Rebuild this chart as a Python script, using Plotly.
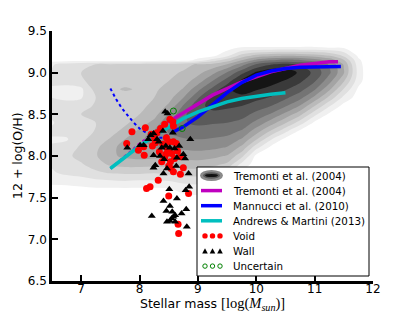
import numpy as np
import plotly.graph_objects as go

# ---------------- data ----------------
# SDSS density (contour levels 0..10) on a mass x metallicity grid
mass_bins = [6.5, 6.75, 7.0, 7.25, 7.5, 7.75, 8.0, 8.25, 8.5, 8.75, 9.0, 9.25,
             9.5, 9.75, 10.0, 10.25, 10.5, 10.75, 11.0, 11.25, 11.5, 11.75, 11.9]
oh_bins = [7.0, 7.1, 7.2, 7.3, 7.4, 7.5, 7.6, 7.7, 7.8, 7.9, 8.0, 8.1, 8.2, 8.3,
           8.4, 8.5, 8.6, 8.7, 8.8, 8.9, 9.0, 9.1, 9.15, 9.2, 9.3, 9.4]
# one list per mass bin, values for oh_bins from 7.0 up to 9.4
density_by_mass = [
    [0, 0, 0, 0, 0, 0, 0, 0.9, 1.4, 1.6, 1.8, 1.6, 1.4, 1.7, 1.4, 1.7, 1.8, 1.5, 1.3, 1.8, 1.6, 1.4, 0, 0, 0, 0],
    [0, 0, 0, 0, 0, 0, 0, 1.0, 1.7, 2.0, 2.3, 1.9, 1.4, 1.8, 2.0, 2.2, 1.9, 1.3, 1.2, 1.8, 2.1, 1.9, 0, 0, 0, 0],
    [0, 0, 0, 0, 0, 0, 0.2, 1.1, 1.9, 2.4, 2.8, 2.7, 2.3, 1.8, 2.1, 2.5, 2.2, 1.4, 1.3, 2.1, 2.5, 2.3, 0, 0, 0, 0],
    [0, 0, 0, 0, 0, 0, 0.3, 1.3, 2.3, 3.0, 3.4, 3.3, 2.9, 2.6, 2.5, 2.8, 2.6, 2.5, 2.9, 3.5, 2.9, 2.5, 0, 0, 0, 0],
    [0, 0, 0, 0, 0, 0, 0.3, 1.4, 2.6, 3.7, 4.3, 4.2, 3.6, 3.1, 2.8, 2.9, 2.7, 2.9, 3.3, 3.1, 2.8, 2.6, 0, 0, 0, 0],
    [0, 0, 0, 0, 0, 0, 0.3, 1.5, 2.7, 3.9, 4.7, 4.9, 4.5, 3.8, 3.3, 3.1, 3.0, 3.1, 3.6, 3.2, 2.9, 2.7, 0, 0, 0, 0],
    [0, 0, 0, 0, 0, 0, 0.3, 1.4, 2.7, 3.9, 4.9, 5.4, 5.3, 4.7, 4.0, 3.5, 3.3, 3.2, 3.4, 3.2, 3.0, 2.8, 0, 0, 0, 0],
    [0, 0, 0, 0, 0, 0, 0.3, 1.4, 2.6, 3.8, 4.8, 5.5, 5.9, 5.6, 4.8, 4.1, 3.7, 3.5, 3.4, 3.3, 3.1, 2.9, 0, 0, 0, 0],
    [0, 0, 0, 0, 0, 0, 0.4, 1.5, 2.8, 3.9, 4.8, 5.6, 6.2, 6.6, 6.4, 5.6, 4.7, 4.1, 3.7, 3.5, 3.3, 3.0, 0, 0, 0, 0],
    [0, 0, 0, 0, 0, 0.2, 0.8, 1.8, 3.0, 4.0, 4.9, 5.7, 6.4, 7.0, 7.4, 7.3, 6.6, 5.5, 4.6, 4.0, 3.6, 3.2, 0, 0, 0, 0],
    [0, 0, 0, 0, 0, 0.3, 0.9, 1.9, 3.0, 4.0, 5.0, 5.8, 6.5, 7.1, 7.7, 8.2, 8.2, 7.4, 6.2, 5.0, 4.2, 3.6, 0.8, 0, 0, 0],
    [0, 0, 0, 0, 0, 0, 0.6, 1.6, 2.7, 3.8, 4.8, 5.7, 6.4, 7.0, 7.6, 8.2, 8.8, 8.8, 7.8, 6.5, 5.2, 3.8, 2.0, 0.3, 0, 0],
    [0, 0, 0, 0, 0, 0, 0.2, 0.6, 1.8, 3.3, 4.4, 5.4, 6.2, 6.9, 7.5, 8.1, 8.7, 9.3, 9.3, 8.0, 6.6, 4.5, 3.0, 1.4, 0, 0],
    [0, 0, 0, 0, 0, 0, 0, 0, 0.2, 1.2, 2.8, 4.2, 5.4, 6.4, 7.2, 7.9, 8.5, 9.2, 10.0, 9.8, 8.2, 6.0, 4.5, 3.0, 0.55, 0],
    [0, 0, 0, 0, 0, 0, 0, 0, 0, 0, 0.2, 1.8, 3.6, 5.0, 6.2, 7.2, 8.0, 8.8, 9.6, 10.3, 9.7, 7.6, 5.8, 4.0, 0.55, 0],
    [0, 0, 0, 0, 0, 0, 0, 0, 0, 0, 0, 0.2, 1.6, 3.4, 5.0, 6.4, 7.5, 8.4, 9.2, 9.9, 10.4, 8.4, 6.4, 4.4, 0.55, 0],
    [0, 0, 0, 0, 0, 0, 0, 0, 0, 0, 0, 0, 0.2, 1.8, 3.6, 5.2, 6.6, 7.7, 8.6, 9.4, 10.2, 8.8, 6.8, 4.6, 0.55, 0],
    [0, 0, 0, 0, 0, 0, 0, 0, 0, 0, 0, 0, 0, 0.3, 2.0, 3.8, 5.4, 6.8, 7.9, 8.7, 9.3, 8.4, 6.6, 4.5, 0.55, 0],
    [0, 0, 0, 0, 0, 0, 0, 0, 0, 0, 0, 0, 0, 0, 0.3, 1.8, 3.5, 5.2, 6.6, 7.6, 8.2, 7.6, 6.0, 4.2, 0.55, 0],
    [0, 0, 0, 0, 0, 0, 0, 0, 0, 0, 0, 0, 0, 0, 0, 0.3, 1.6, 3.2, 4.7, 5.9, 6.7, 6.4, 5.2, 3.6, 0.5, 0],
    [0, 0, 0, 0, 0, 0, 0, 0, 0, 0, 0, 0, 0, 0, 0, 0, 0.1, 1.2, 2.4, 3.6, 4.6, 4.4, 3.6, 2.4, 0.4, 0],
    [0, 0, 0, 0, 0, 0, 0, 0, 0, 0, 0, 0, 0, 0, 0, 0, 0, 0, 0.3, 0.9, 1.1, 0.9, 0.7, 0.3, 0, 0],
    [0, 0, 0, 0, 0, 0, 0, 0, 0, 0, 0, 0, 0, 0, 0, 0, 0, 0, 0, 0, 0, 0, 0, 0, 0, 0],
]
level_colors = ["#ffffff", "#f0f0f0", "#e0e0e0", "#cecece", "#bababa", "#a4a4a4",
                "#8c8c8c", "#747474", "#5a5a5a", "#3a3a3a", "#151515"]

# Tremonti et al. (2004)
trem_mass_extrap = [7.5, 7.75, 8.0, 8.25, 8.5]
trem_oh_extrap = [7.85, 8.00, 8.15, 8.28, 8.41]
trem_mass = [8.5, 8.75, 9.0, 9.25, 9.5, 9.75, 10.0, 10.25, 10.5, 10.75, 11.0, 11.25, 11.4]
trem_oh = [8.41, 8.52, 8.63, 8.73, 8.81, 8.89, 8.95, 9.01, 9.05, 9.09, 9.11, 9.13, 9.13]
# Mannucci et al. (2010)
mann_mass_extrap = [7.5, 7.6, 7.7, 7.8, 7.9, 8.0, 8.1, 8.2, 8.3, 8.4, 8.55]
mann_oh_extrap = [8.81, 8.68, 8.57, 8.48, 8.40, 8.33, 8.28, 8.24, 8.22, 8.22, 8.28]
mann_mass = [8.55, 8.75, 9.0, 9.25, 9.5, 9.75, 10.0, 10.25, 10.5, 10.75, 11.0, 11.25, 11.45]
mann_oh = [8.28, 8.35, 8.47, 8.61, 8.76, 8.88, 8.97, 9.02, 9.05, 9.065, 9.07, 9.075, 9.075]
# Andrews & Martini (2013)
am_mass = [7.5, 7.75, 8.0, 8.25, 8.5, 8.75, 9.0, 9.25, 9.5, 9.75, 10.0, 10.25, 10.5]
am_oh = [7.85, 7.99, 8.12, 8.24, 8.35, 8.45, 8.53, 8.59, 8.65, 8.69, 8.72, 8.74, 8.76]

void_mass = [7.78, 7.87, 8.10, 7.98, 8.07, 8.08, 8.20, 8.26, 8.30, 8.36, 8.43, 8.52, 8.57, 8.58,
             8.27, 8.40, 8.50, 8.58, 8.63, 8.48, 8.55, 8.43, 8.38, 8.53, 8.60, 8.70, 8.50, 8.58,
             8.75, 8.70, 8.54, 8.32, 8.12, 8.18, 8.50, 8.84, 8.66, 8.67, 8.34, 8.46, 8.65, 8.22, 8.45]
void_oh = [8.15, 8.29, 8.34, 8.07, 8.11, 8.01, 8.26, 8.21, 8.28, 8.33, 8.38, 8.44, 8.41, 8.36,
           8.16, 8.14, 8.17, 8.17, 8.15, 8.08, 8.03, 7.98, 7.93, 7.93, 7.97, 7.99, 7.88, 7.81,
           7.86, 7.78, 7.85, 7.71, 7.61, 7.63, 7.52, 7.55, 7.18, 7.07, 8.05, 8.22, 8.06, 8.12, 8.02]
wall_mass = [8.44, 8.48, 8.24, 8.19, 8.07, 7.79, 8.01, 8.87, 8.75, 8.30, 8.38, 8.45, 8.52, 8.60,
             8.35, 8.24, 8.42, 8.64, 8.78, 8.27, 8.24, 8.41, 8.47, 8.63, 8.84, 8.51, 8.85, 8.79,
             8.41, 8.64, 8.52, 8.46, 8.56, 8.58, 8.61, 8.72, 8.80, 8.21, 8.47, 8.52, 8.81, 8.55,
             8.61, 8.33, 8.68, 8.15, 8.40, 8.57]
wall_oh = [8.53, 8.51, 8.27, 8.25, 8.13, 8.10, 8.13, 8.20, 8.02, 8.20, 8.10, 8.12, 8.10, 8.09,
           8.00, 8.01, 7.96, 7.98, 7.97, 7.89, 7.86, 7.79, 7.85, 7.88, 7.79, 7.60, 7.63, 7.59,
           7.46, 7.49, 7.40, 7.34, 7.33, 7.27, 7.29, 7.31, 7.36, 7.28, 7.21, 7.22, 7.15, 7.25,
           7.21, 8.17, 8.12, 8.20, 8.30, 8.28]
unc_mass = [8.58, 8.73]
unc_oh = [8.54, 8.33]

x_ticks = [7, 8, 9, 10, 11, 12]
y_ticks = [6.5, 7.0, 7.5, 8.0, 8.5, 9.0, 9.5]
legend_labels = ["Tremonti et al. (2004)", "Tremonti et al. (2004)", "Mannucci et al. (2010)",
                 "Andrews & Martini (2013)", "Void", "Wall", "Uncertain"]
x_title = ('Stellar mass <span style="font-family:Liberation Serif;font-size:14.5px">'
           '[log(<i>M</i><sub><i>sun</i></sub>)]</span>')
y_title = "12 + log(O/H)"

MAGENTA, BLUE, CYAN = "#bf00bf", "#0000ff", "#00bfbf"
RED, BLACK, GREEN = "#ff0000", "#000000", "#008000"

# ---------------- figure ----------------
W, H = 415, 312
ML, MR, MT, MB = 52, 42, 31, 31
PW, PH = W - ML - MR, H - MT - MB

z = np.array(density_by_mass).T
n = len(level_colors) - 1
cscale = [[k / n, c] for k, c in enumerate(level_colors)]

fig = go.Figure()
fig.add_trace(go.Contour(
    x=mass_bins, y=oh_bins, z=z, colorscale=cscale, showscale=False,
    contours=dict(start=0.5, end=n - 0.5, size=1, coloring="fill", showlines=False),
    line=dict(width=0), hoverinfo="skip"))

fig.add_trace(go.Scatter(x=trem_mass_extrap, y=trem_oh_extrap, mode="lines",
                         line=dict(color=MAGENTA, width=2, dash="dot"), showlegend=False))
fig.add_trace(go.Scatter(x=trem_mass, y=trem_oh, mode="lines",
                         line=dict(color=MAGENTA, width=3.5), showlegend=False))
fig.add_trace(go.Scatter(x=mann_mass_extrap, y=mann_oh_extrap, mode="lines",
                         line=dict(color=BLUE, width=2, dash="dot"), showlegend=False))
fig.add_trace(go.Scatter(x=mann_mass, y=mann_oh, mode="lines",
                         line=dict(color=BLUE, width=3.5), showlegend=False))
fig.add_trace(go.Scatter(x=am_mass, y=am_oh, mode="lines",
                         line=dict(color=CYAN, width=3.5), showlegend=False))
fig.add_trace(go.Scatter(x=void_mass, y=void_oh, mode="markers",
                         marker=dict(color=RED, size=7, line=dict(width=0)), showlegend=False))
fig.add_trace(go.Scatter(x=wall_mass, y=wall_oh, mode="markers",
                         marker=dict(color=BLACK, size=7, symbol="triangle-up", line=dict(width=0)),
                         showlegend=False))
fig.add_trace(go.Scatter(x=unc_mass, y=unc_oh, mode="markers",
                         marker=dict(color=GREEN, size=6, symbol="circle-open", line=dict(width=1)),
                         showlegend=False))

# ---------------- hand-drawn legend (matplotlib style) ----------------
def px(xp):
    return (xp - ML) / PW

def py(yp):
    return (H - MB - yp) / PH

shapes = []
annots = []
LX0, LX1, LY0, LY1 = 197, 369, 167, 276
shapes.append(dict(type="rect", xref="paper", yref="paper", x0=px(LX0), x1=px(LX1),
                   y0=py(LY1), y1=py(LY0), fillcolor="white", line=dict(color="black", width=1)))
row0, dy = 175.5, 15.1
for i, lab in enumerate(legend_labels):
    yc = row0 + i * dy
    annots.append(dict(x=px(231), y=py(yc), xref="paper", yref="paper", text=lab,
                       showarrow=False, xanchor="left", yanchor="middle",
                       font=dict(family="DejaVu Sans", size=10.3, color="black")))
    if i == 0:
        shapes.append(dict(type="circle", xref="paper", yref="paper", x0=px(200), x1=px(223),
                           y0=py(yc + 5.5), y1=py(yc - 5.5), fillcolor="#8a8a8a", line=dict(width=0)))
        shapes.append(dict(type="circle", xref="paper", yref="paper", x0=px(203), x1=px(220),
                           y0=py(yc + 3.2), y1=py(yc - 3.2), fillcolor="#5a5a5a", line=dict(width=0)))
        shapes.append(dict(type="circle", xref="paper", yref="paper", x0=px(205), x1=px(218),
                           y0=py(yc + 1.6), y1=py(yc - 1.6), fillcolor="#111111", line=dict(width=0)))
    elif i in (1, 2, 3):
        col = [MAGENTA, BLUE, CYAN][i - 1]
        shapes.append(dict(type="line", xref="paper", yref="paper", x0=px(201), x1=px(222),
                           y0=py(yc), y1=py(yc), line=dict(color=col, width=3.5)))
    else:
        for cx in (205, 212.5, 220):
            if i == 4:
                shapes.append(dict(type="circle", xref="paper", yref="paper", x0=px(cx - 2.7),
                                   x1=px(cx + 2.7), y0=py(yc + 2.7), y1=py(yc - 2.7),
                                   fillcolor=RED, line=dict(width=0)))
            elif i == 5:
                path = "M {a},{b} L {c},{d} L {e},{f} Z".format(
                    a=px(cx - 2.8), b=py(yc + 2.4), c=px(cx + 2.8), d=py(yc + 2.4),
                    e=px(cx), f=py(yc - 2.8))
                shapes.append(dict(type="path", xref="paper", yref="paper", path=path,
                                   fillcolor=BLACK, line=dict(width=0)))
            else:
                shapes.append(dict(type="circle", xref="paper", yref="paper", x0=px(cx - 2.2),
                                   x1=px(cx + 2.2), y0=py(yc + 2.2), y1=py(yc - 2.2),
                                   fillcolor="rgba(0,0,0,0)", line=dict(color=GREEN, width=1)))

# axis titles placed as annotations
annots.append(dict(x=px(212), y=py(304), xref="paper", yref="paper", text=x_title,
                   showarrow=False, xanchor="center", yanchor="middle",
                   font=dict(family="DejaVu Sans", size=12.5, color="black")))
annots.append(dict(x=px(17), y=py(156), xref="paper", yref="paper", text=y_title,
                   showarrow=False, xanchor="center", yanchor="middle", textangle=-90,
                   font=dict(family="DejaVu Sans", size=12.5, color="black")))

axis_common = dict(showline=True, linecolor="black", linewidth=2.5, mirror=False,
                   ticks="inside", ticklen=6, tickwidth=2, tickcolor="black",
                   showgrid=False, zeroline=False,
                   tickfont=dict(family="DejaVu Sans", size=12, color="black"))

fig.update_layout(
    width=W, height=H, margin=dict(l=ML, r=MR, t=MT, b=MB, autoexpand=False),
    paper_bgcolor="white", plot_bgcolor="white", showlegend=False,
    shapes=shapes, annotations=annots,
    xaxis=dict(range=[6.5, 12], tickvals=x_ticks, ticktext=[str(v) for v in x_ticks],
               ticklabelstandoff=-5, **axis_common),
    yaxis=dict(range=[6.5, 9.5], tickvals=y_ticks, ticktext=["%.1f" % v for v in y_ticks],
               **axis_common),
)

fig.write_html("out.html", config={"displayModeBar": False},
               post_script="document.body.style.margin='0';document.body.style.padding='0';")
